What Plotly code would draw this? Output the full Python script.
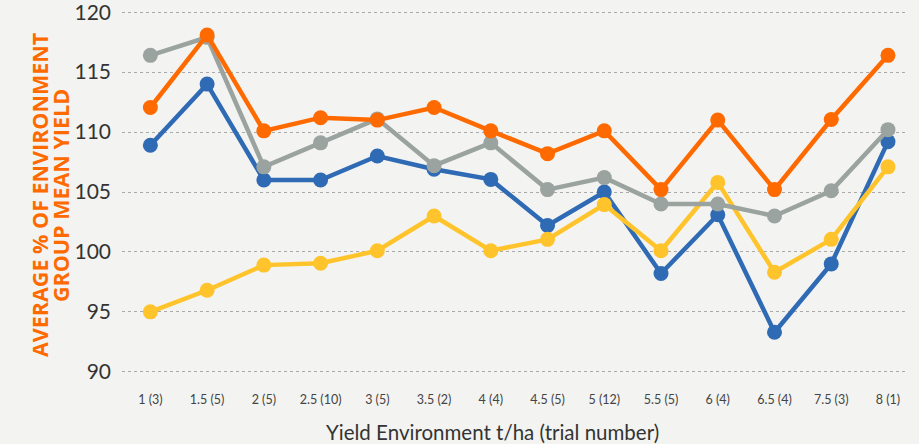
import plotly.graph_objects as go

# --- data ---
categories = ["1 (3)", "1.5 (5)", "2 (5)", "2.5 (10)", "3 (5)", "3.5 (2)", "4 (4)",
              "4.5 (5)", "5 (12)", "5.5 (5)", "6 (4)", "6.5 (4)", "7.5 (3)", "8 (1)"]

blue = [108.9, 114.0, 106.0, 106.0, 108.0, 106.9, 106.05, 102.2, 105.0, 98.2, 103.1, 93.3, 99.0, 109.2]
yellow = [95.0, 96.8, 98.9, 99.05, 100.1, 103.0, 100.1, 101.05, 103.95, 100.1, 105.8, 98.3, 101.05, 107.1]
grey = [116.4, 117.9, 107.1, 109.1, 111.1, 107.2, 109.1, 105.2, 106.2, 104.0, 104.0, 103.0, 105.1, 110.2]
orange = [112.05, 118.1, 110.1, 111.2, 111.0, 112.05, 110.1, 108.2, 110.1, 105.2, 111.0, 105.2, 111.05, 116.4]

y_ticks = [90, 95, 100, 105, 110, 115, 120]

BG = "#F3F3F1"
ORANGE = "#FF6A00"
COLORS = {"blue": "#2F6AB4", "yellow": "#FFC42B", "grey": "#9AA39F", "orange": ORANGE}

fig = go.Figure()
for name, vals in [("blue", blue), ("yellow", yellow), ("grey", grey), ("orange", orange)]:
    fig.add_trace(go.Scatter(x=categories, y=vals, mode="lines+markers", name=name,
                             line=dict(color=COLORS[name], width=4.5),
                             marker=dict(color=COLORS[name], size=15), cliponaxis=False))

# plot area: x 122..905, y ~11..373 (12 px per unit)
fig.update_layout(
    width=919, height=444,
    margin=dict(l=122, r=14, t=11, b=71),
    paper_bgcolor=BG, plot_bgcolor=BG,
    showlegend=False,
    font=dict(family="Lato", color="#333333"),
    xaxis=dict(type="category", range=[-0.5, 13.3], showgrid=False, zeroline=False,
               showline=False, automargin=False,
               tickfont=dict(size=12.5, color="#444444"), ticklabelstandoff=17),
    yaxis=dict(range=[89.9, 120.1], tickvals=y_ticks, showgrid=True, gridcolor="#AAAAAA",
               griddash="dot", gridwidth=1, zeroline=False, showline=False, automargin=False,
               ticklabeloverflow="allow",
               tickfont=dict(size=21, color="#333333"), ticklabelstandoff=10),
    annotations=[
        dict(text="<b>AVERAGE % OF ENVIRONMENT</b>", textangle=-90,
             xref="paper", yref="paper", x=(39 - 122) / 783, y=(373 - 195) / 362,
             showarrow=False, xanchor="center", yanchor="middle",
             font=dict(family="Open Sans", size=21.5, color=ORANGE)),
        dict(text="<b>GROUP MEAN YIELD</b>", textangle=-90,
             xref="paper", yref="paper", x=(60 - 122) / 783, y=(373 - 195) / 362,
             showarrow=False, xanchor="center", yanchor="middle",
             font=dict(family="Open Sans", size=21.5, color=ORANGE)),
        dict(text="Yield Environment t/ha (trial number)", xref="paper", yref="paper",
             x=(492 - 122) / 783, y=(373 - 432) / 362, showarrow=False,
             xanchor="center", yanchor="middle",
             font=dict(size=20.5, color="#333333")),
    ],
)

# the page's body has a default 8px margin; drop it so the figure sits at the corner
fig.write_html("out.html", config={"displayModeBar": False},
               post_script="document.body.style.margin='0';")
